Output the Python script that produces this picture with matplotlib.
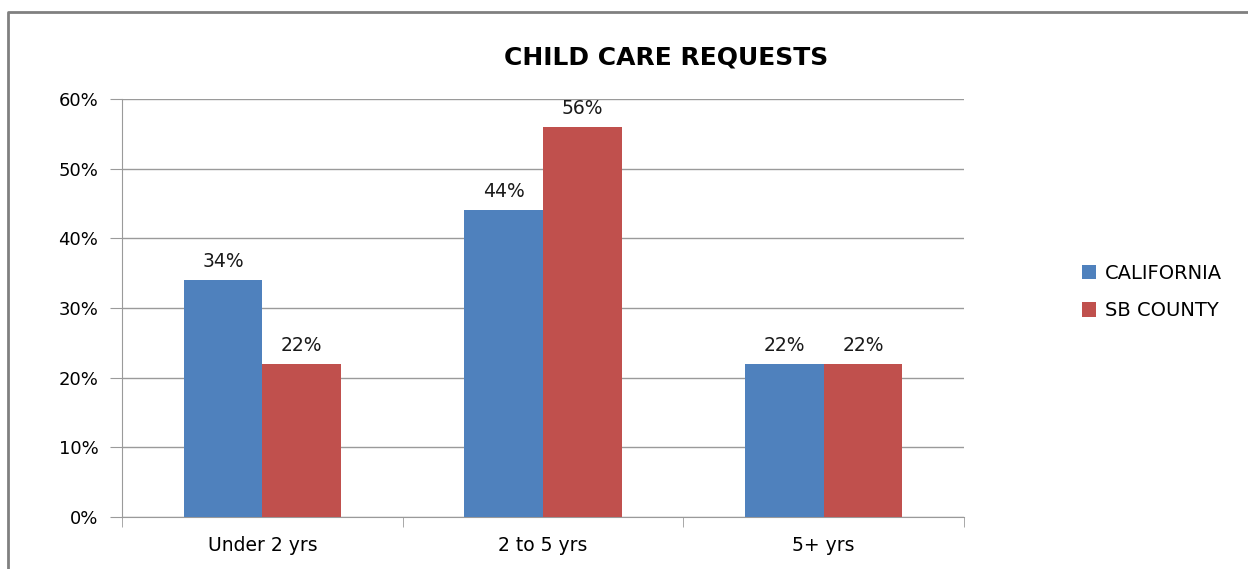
import matplotlib.pyplot as plt
import numpy as np

categories = ['Under 2 yrs', '2 to 5 yrs', '5+ yrs']
california = [34, 44, 22]
sb_county = [22, 56, 22]
y_ticks = [0, 10, 20, 30, 40, 50, 60]

plt.rcParams['font.family'] = ['DejaVu Sans']

fig = plt.figure(figsize=(12.48, 5.69), dpi=100)
ax = fig.add_axes([122 / 1248, 1 - 517 / 569, 842 / 1248, 418 / 569])

x = np.arange(len(categories))
w = 0.28
b1 = ax.bar(x - w / 2, california, w, color='#4F81BD', label='CALIFORNIA', zorder=3)
b2 = ax.bar(x + w / 2, sb_county, w, color='#C0504D', label='SB COUNTY', zorder=3)

for bars, vals in ((b1, california), (b2, sb_county)):
    for bar, v in zip(bars, vals):
        ax.text(bar.get_x() + bar.get_width() / 2, v + 1.3, f'{v}%',
                ha='center', va='bottom', fontsize=13.5, color='#1a1a1a')

ax.set_xlim(-0.5, 2.5)
ax.set_ylim(0, 60)
ax.set_yticks(y_ticks)
ax.set_yticklabels([f'{t}%' for t in y_ticks], fontsize=13)
ax.yaxis.grid(True, color='#9a9a9a', linewidth=1, zorder=0)

ax.set_xticks(x)
ax.set_xticklabels(categories, fontsize=13.5)
ax.tick_params(axis='x', length=0, pad=14)
ax.set_xticks([-0.5, 0.5, 1.5, 2.5], minor=True)
ax.tick_params(axis='x', which='minor', length=7, color='#9a9a9a')
ax.tick_params(axis='y', length=9, color='#9a9a9a', pad=8)

for s in ('top', 'right'):
    ax.spines[s].set_visible(False)
for s in ('left', 'bottom'):
    ax.spines[s].set_color('#9a9a9a')

fig.text(666 / 1248, 1 - 58 / 569, 'CHILD CARE REQUESTS', ha='center', va='center',
         fontsize=18, fontweight='bold')

fig.legend(handles=[b1, b2], loc='center left', bbox_to_anchor=(1064 / 1248, 1 - 292 / 569),
           frameon=False, fontsize=14, handlelength=0.75, handleheight=0.75,
           labelspacing=0.95, handletextpad=0.45)

# outer frame line
fig.add_artist(plt.Line2D([8 / 1248, 8 / 1248, 1.0], [0.0, 1 - 12 / 569, 1 - 12 / 569],
                          transform=fig.transFigure, color='#808080', linewidth=2))

fig.savefig('out.png', dpi=100)
